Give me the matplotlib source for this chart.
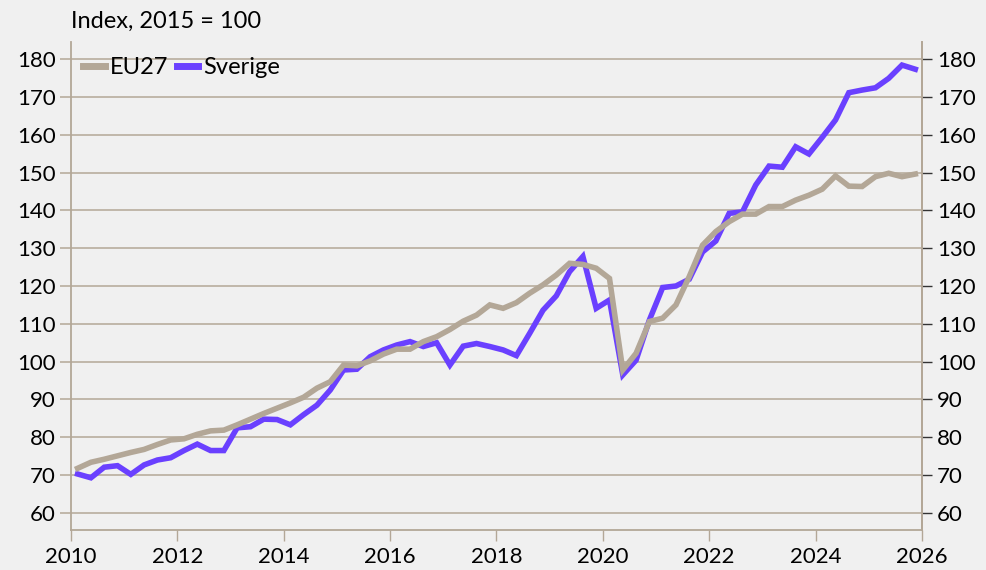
import matplotlib
matplotlib.use("Agg")
import matplotlib.pyplot as plt
import numpy as np

plt.rcParams['font.family'] = ['Lato', 'DejaVu Sans']

# quarterly index, 2010Q1 .. 2025Q4 (2015 = 100)
eu27 = [71.8, 73.4, 74.2, 75.1, 76.0, 76.8, 78.1, 79.3, 79.6, 80.8, 81.7, 81.9,
        83.3, 84.8, 86.3, 87.7, 89.1, 90.6, 93.0, 94.7, 99.1, 98.9, 100.2, 102.0,
        103.3, 103.3, 105.3, 106.6, 108.5, 110.7, 112.3, 115.0, 114.1, 115.6, 118.1, 120.3,
        122.9, 126.0, 125.7, 124.7, 122.0, 97.8, 102.2, 110.6, 111.5, 115.0, 122.5, 130.8,
        134.4, 137.0, 139.0, 139.0, 141.0, 141.0, 142.7, 144.0, 145.6, 149.1, 146.4, 146.3,
        148.9, 149.8, 148.9, 149.6]
sverige = [70.3, 69.3, 72.1, 72.5, 70.2, 72.7, 74.0, 74.6, 76.5, 78.2, 76.5, 76.5,
           82.5, 82.8, 84.8, 84.7, 83.3, 86.0, 88.5, 92.5, 97.8, 98.0, 101.3, 103.1,
           104.4, 105.3, 104.0, 105.0, 99.1, 104.1, 104.8, 104.0, 103.1, 101.6, 107.5, 113.6,
           117.4, 123.8, 127.8, 114.1, 116.3, 96.5, 100.4, 111.0, 119.6, 120.0, 121.8, 129.0,
           131.9, 139.2, 139.6, 146.7, 151.7, 151.4, 156.8, 154.9, 159.3, 163.9, 171.1, 171.8,
           172.4, 174.9, 178.4, 177.3]
t = 2010.125 + 0.25 * np.arange(len(eu27))

bg = "#F0F0F0"
beige = "#B3A797"
purple = "#6A40FF"
grid_c = "#BDB2A4"
fs = 16

fig = plt.figure(figsize=(9.87, 5.70), dpi=100, facecolor=bg)
ax = fig.add_axes([0.0719, 0.0702, 0.8622, 0.8561], facecolor=bg)

ax.plot(t, eu27, color=beige, lw=4.0, label="EU27", solid_joinstyle="miter", zorder=3)
ax.plot(t, sverige, color=purple, lw=4.0, label="Sverige", solid_joinstyle="miter", zorder=2)

ax.set_xlim(2010, 2026)
ax.set_ylim(55.5, 184.5)
ax.set_xticks(range(2010, 2027, 2))
ax.set_yticks(range(60, 181, 10))
ax.grid(axis="y", color=grid_c, lw=1.3)
ax.set_axisbelow(True)

for s in ["left", "bottom", "right"]:
    ax.spines[s].set_color(beige)
    ax.spines[s].set_linewidth(1.3)
ax.spines["top"].set_visible(False)

ax.tick_params(axis="x", colors=beige, length=8, width=1, labelcolor="black", labelsize=fs, pad=4)
ax.tick_params(axis="y", colors=grid_c, length=8, width=1.3, labelcolor="black", labelsize=fs, pad=3)

ax2 = ax.twinx()
ax2.set_ylim(ax.get_ylim())
ax2.set_yticks(range(60, 181, 10))
ax2.tick_params(axis="y", colors="#333333", length=7, width=1, labelcolor="black", labelsize=fs, pad=4)
for s in ["left", "bottom", "top"]:
    ax2.spines[s].set_visible(False)
ax2.spines["right"].set_color(beige)
ax2.spines["right"].set_linewidth(1.3)

fig.text(0.0719, 0.962, "Index, 2015 = 100", fontsize=17, va="center", ha="left")

leg = ax.legend(loc="upper left", bbox_to_anchor=(-0.002, 0.998), ncol=2, frameon=False,
                fontsize=17, handlelength=0.9, handletextpad=0.2, columnspacing=0.4,
                borderaxespad=0.2)
for h in leg.get_lines():
    h.set_linewidth(5)

fig.savefig("out.png", dpi=100, facecolor=bg)
